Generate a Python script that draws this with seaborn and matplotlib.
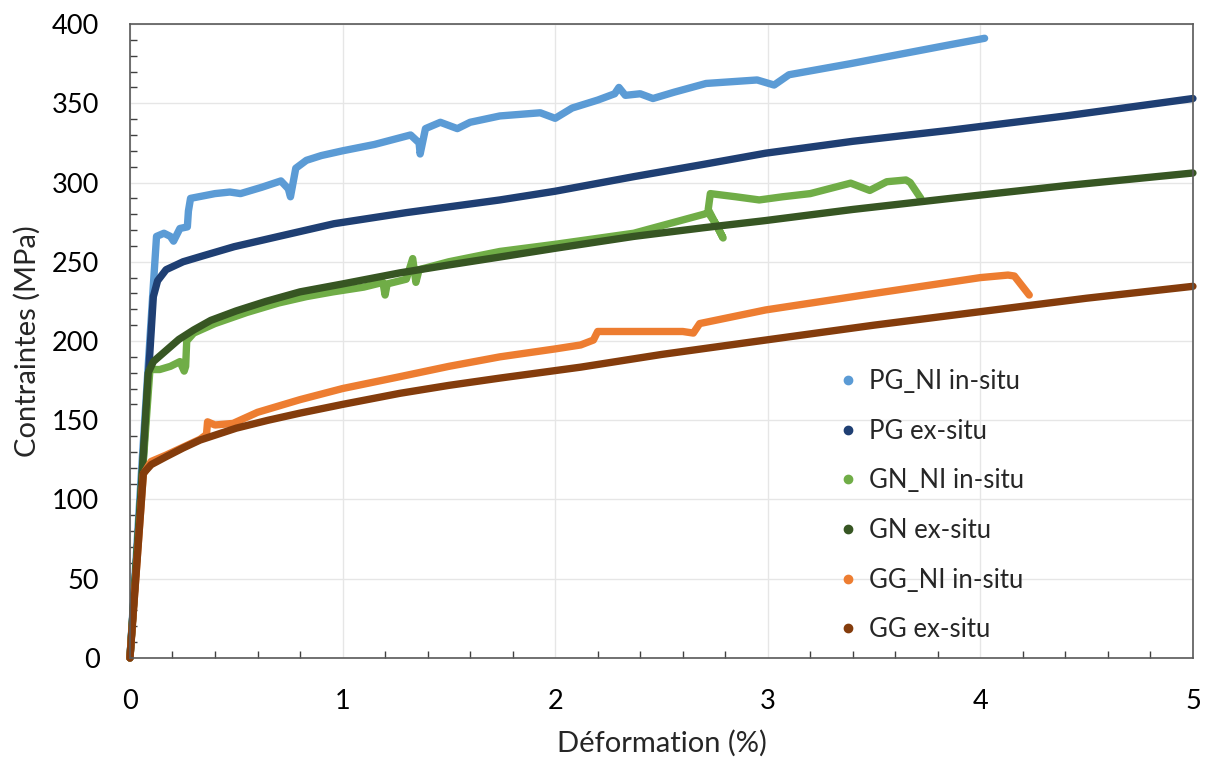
import matplotlib
matplotlib.use("Agg")
import matplotlib.pyplot as plt
from matplotlib.lines import Line2D
from matplotlib.ticker import MultipleLocator
import seaborn as sns

# courbes contrainte / deformation
pg_ni_x = [0, 0.06, 0.11, 0.125, 0.16, 0.19, 0.205, 0.235, 0.27, 0.275, 0.285, 0.40, 0.47, 0.52, 0.62, 0.71,
           0.745, 0.755, 0.78, 0.83, 0.90, 1.0, 1.15, 1.32, 1.36, 1.365, 1.39, 1.46, 1.54, 1.60, 1.74, 1.93,
           2.0, 2.08, 2.20, 2.28, 2.30, 2.33, 2.40, 2.46, 2.56, 2.71, 2.95, 3.03, 3.10, 3.39, 3.86, 4.02]
pg_ni_y = [0, 130, 235, 266, 268, 266, 263, 271, 272, 282, 290, 293, 294, 293, 297, 301,
           296, 291, 309, 314, 317, 320, 324, 330, 325, 318, 334, 338, 334, 338, 342, 344,
           340.5, 347, 352, 356, 360, 355, 356, 353, 357, 362.5, 364.7, 361.5, 368, 375, 387, 391]

pg_x = [0, 0.06, 0.11, 0.13, 0.17, 0.25, 0.35, 0.49, 0.7, 0.96, 1.3, 1.74, 2.0, 2.37, 2.7, 2.99, 3.4, 3.86, 4.4, 5.0]
pg_y = [0, 120, 228, 238, 245, 250, 254, 259.5, 266, 274, 281, 289, 294.5, 303.7, 311.5, 318.5, 326, 333, 342, 353]

gn_ni_x = [0, 0.05, 0.094, 0.14, 0.19, 0.235, 0.255, 0.262, 0.267, 0.30, 0.40, 0.55, 0.70, 0.83, 0.955,
           1.10, 1.19, 1.20, 1.21, 1.30, 1.33, 1.345, 1.36, 1.50, 1.74, 2.0, 2.37, 2.70, 2.72, 2.76, 2.79,
           2.72, 2.73, 2.85, 2.96, 3.07, 3.20, 3.39, 3.48, 3.56, 3.65, 3.67, 3.72]
gn_ni_y = [0, 100, 182, 182, 184, 187, 181, 184, 200, 205, 211, 218, 224, 228, 231,
           234, 237, 229, 236, 239, 252, 237, 245, 250, 256.5, 261, 268, 280, 281, 273, 265,
           283, 293, 291, 289, 291, 293, 299.6, 295, 300.5, 301.6, 300, 290]

gn_x = [0, 0.05, 0.086, 0.11, 0.17, 0.23, 0.30, 0.38, 0.5, 0.64, 0.80, 1.0, 1.27, 1.5, 1.74, 2.0, 2.37,
        2.7, 2.99, 3.4, 3.86, 4.4, 5.0]
gn_y = [0, 100, 180, 187, 194, 201, 207, 213, 219, 225, 231, 236, 243, 248, 253, 258.5, 266,
        271.5, 276, 283, 290, 298, 306]

gg_ni_x = [0, 0.03, 0.063, 0.10, 0.17, 0.25, 0.33, 0.36, 0.365, 0.40, 0.485, 0.60, 0.8, 1.0, 1.27, 1.5,
           1.74, 2.0, 2.12, 2.18, 2.20, 2.40, 2.60, 2.65, 2.68, 2.99, 3.5, 4.0, 4.13, 4.16, 4.23]
gg_ni_y = [0, 55, 116, 124, 128, 133, 138, 141, 149, 147, 148, 155, 163, 170, 177.5, 184,
           190, 195, 197.5, 200.6, 206, 206, 206, 205, 211, 219.6, 230, 240, 241.6, 241, 229]

gg_x = [0, 0.03, 0.063, 0.10, 0.17, 0.25, 0.33, 0.5, 0.65, 0.8, 1.0, 1.27, 1.5, 1.74, 2.12, 2.5, 2.99,
        3.5, 4.0, 4.5, 5.0]
gg_y = [0, 55, 116.5, 122, 127, 132.5, 137.5, 145, 150, 154.5, 160, 167, 172, 176.6, 183.5, 191.5, 200.6,
        210, 218.5, 227, 234.5]

labels = ["PG_NI in-situ", "PG ex-situ", "GN_NI in-situ", "GN ex-situ", "GG_NI in-situ", "GG ex-situ"]
colors = ["#5B9BD5", "#1F3F73", "#70AD47", "#375623", "#ED7D31", "#843C0C"]
series = [(pg_ni_x, pg_ni_y), (pg_x, pg_y), (gn_ni_x, gn_ni_y), (gn_x, gn_y), (gg_ni_x, gg_ni_y), (gg_x, gg_y)]

sns.set_theme(style="white")
plt.rcParams['font.family'] = ['Lato', 'DejaVu Sans']

fig = plt.figure(figsize=(12.1, 7.65), dpi=100)
ax = fig.add_axes([0.1074, 0.1399, 0.8785, 0.8287])

for (xs, ys), c in zip(series, colors):
    sns.lineplot(x=xs, y=ys, ax=ax, color=c, lw=5.3, sort=False, estimator=None,
                 solid_capstyle='round', solid_joinstyle='round', clip_on=False)

ax.set_xlim(0, 5)
ax.set_ylim(0, 400)
ax.xaxis.set_major_locator(MultipleLocator(1))
ax.xaxis.set_minor_locator(MultipleLocator(0.2))
ax.yaxis.set_major_locator(MultipleLocator(50))
ax.yaxis.set_minor_locator(MultipleLocator(10))
ax.grid(True, which='major', color='#E6E6E6', lw=1)
ax.set_axisbelow(True)

for s in ax.spines.values():
    s.set_color('#595959')
    s.set_linewidth(1.2)

ax.tick_params(axis='both', which='both', direction='in', colors='#404040', labelcolor='black')
ax.tick_params(axis='x', which='major', length=8, width=1, pad=22, labelsize=19.5)
ax.tick_params(axis='x', which='minor', length=5, width=1, bottom=True)
ax.tick_params(axis='y', which='major', length=5, width=1, pad=22, labelsize=19.5)
ax.tick_params(axis='y', which='minor', length=5, width=1, left=True)

ax.set_xlabel("Déformation (%)", fontsize=21, labelpad=12)
ax.set_ylabel("Contraintes (MPa)", fontsize=21, labelpad=8)

handles = [Line2D([], [], marker='o', linestyle='', color=c, markersize=6) for c in colors]
ax.legend(handles, labels, loc='upper left', bbox_to_anchor=(0.651, 0.476), frameon=False,
          fontsize=18.5, handlelength=1, handletextpad=0.35, labelspacing=0.96, borderpad=0)

fig.savefig("out.png", dpi=100)
